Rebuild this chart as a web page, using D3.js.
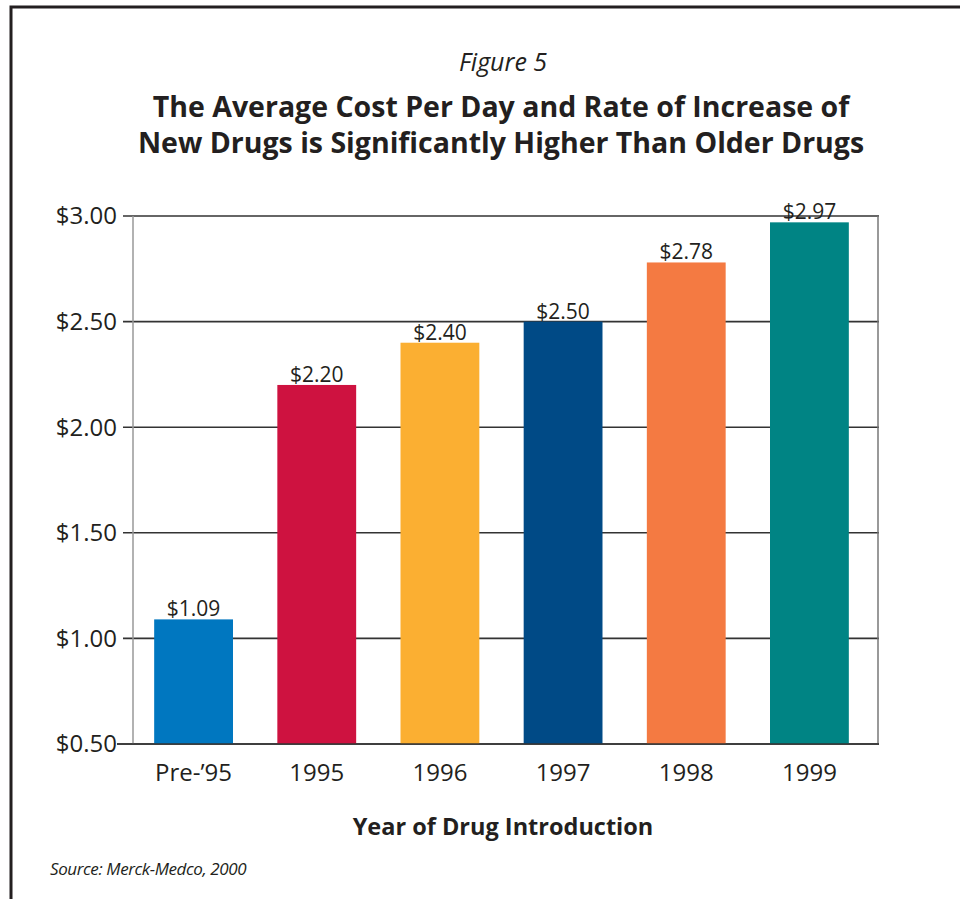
<!DOCTYPE html>
<html>
<head>
<meta charset="utf-8">
<script src="https://cdn.jsdelivr.net/npm/d3@7"></script>
<style>
  html, body { margin: 0; padding: 0; background: #fff; }
  svg { display: block; }
  text { fill: #231f20; }
</style>
</head>
<body>
<svg id="chart" width="960" height="899"></svg>
<script>
// Average cost per day by year of drug introduction
const categories = ["Pre-\u201995", "1995", "1996", "1997", "1998", "1999"];
const costs = [1.09, 2.20, 2.40, 2.50, 2.78, 2.97];
const barColors = ["#0077c0", "#ce1240", "#fbaf32", "#004a86", "#f47a42", "#008484"];
const yTicks = [0.5, 1.0, 1.5, 2.0, 2.5, 3.0];

const svg = d3.select("#chart");
const font = "'Open Sans', 'Noto Sans', sans-serif";
const money = d => "$" + d3.format(".2f")(d);

// outer frame (left and top rules)
svg.append("path")
  .attr("d", "M11,899 V7 H960")
  .attr("fill", "none")
  .attr("stroke", "#231f20")
  .attr("stroke-width", 3);

// titles
svg.append("text")
  .attr("x", 503).attr("y", 71)
  .attr("text-anchor", "middle")
  .style("font-family", font).style("font-style", "italic")
  .style("font-size", "25px")
  .text("Figure 5");

const titleLines = ["The Average Cost Per Day and Rate of Increase of",
                    "New Drugs is Significantly Higher Than Older Drugs"];
svg.selectAll("text.title").data(titleLines).enter().append("text")
  .attr("class", "title")
  .attr("x", 501).attr("y", (d, i) => 117 + i * 36)
  .attr("text-anchor", "middle")
  .style("font-family", font).style("font-weight", 700)
  .style("font-size", "28.5px")
  .text(d => d);

// scales
const plot = { left: 133, right: 878, top: 216, bottom: 744 };
const x = d3.scaleBand().domain(categories).range([132, 871])
  .paddingInner(0.36).paddingOuter(0.18);
const y = d3.scaleLinear().domain([0.5, 3.0]).range([plot.bottom, plot.top]);

// horizontal gridlines, each starting from a short tick stub
svg.append("g").selectAll("line").data(yTicks).enter().append("line")
  .attr("x1", d => d === 0.5 ? 117 : 123)
  .attr("x2", plot.right + 1)
  .attr("y1", d => y(d)).attr("y2", d => y(d))
  .attr("stroke", "#333")
  .attr("stroke-width", 1.6);

// side rules of plot area
svg.append("line")
  .attr("x1", plot.left).attr("x2", plot.left)
  .attr("y1", plot.top).attr("y2", plot.bottom)
  .attr("stroke", "#999").attr("stroke-width", 1.5);
svg.append("line")
  .attr("x1", plot.right).attr("x2", plot.right)
  .attr("y1", plot.top).attr("y2", plot.bottom)
  .attr("stroke", "#777").attr("stroke-width", 1.5);

// y tick labels
svg.append("g").selectAll("text").data(yTicks).enter().append("text")
  .attr("x", 117).attr("y", d => y(d))
  .attr("dy", "0.35em")
  .attr("text-anchor", "end")
  .style("font-family", font).style("font-size", "24px")
  .text(money);

// bars
const data = categories.map((c, i) => ({ cat: c, value: costs[i], color: barColors[i] }));
svg.append("g").selectAll("rect").data(data).enter().append("rect")
  .attr("x", d => x(d.cat))
  .attr("width", x.bandwidth())
  .attr("y", d => y(d.value))
  .attr("height", d => y(0.5) - y(d.value))
  .attr("fill", d => d.color);

// bottom axis line over bars
svg.append("line")
  .attr("x1", 117).attr("x2", plot.right + 1)
  .attr("y1", plot.bottom).attr("y2", plot.bottom)
  .attr("stroke", "#333").attr("stroke-width", 1.6);

// value labels
svg.append("g").selectAll("text").data(data).enter().append("text")
  .attr("x", d => x(d.cat) + x.bandwidth() / 2)
  .attr("y", d => y(d.value) - 3)
  .attr("text-anchor", "middle")
  .style("font-family", font).style("font-size", "21px")
  .text(d => money(d.value));

// category labels
svg.append("g").selectAll("text").data(categories).enter().append("text")
  .attr("x", d => x(d) + x.bandwidth() / 2)
  .attr("y", 781)
  .attr("text-anchor", "middle")
  .style("font-family", font).style("font-size", "24px")
  .text(d => d);

// axis title
svg.append("text")
  .attr("x", 503).attr("y", 835)
  .attr("text-anchor", "middle")
  .style("font-family", font).style("font-weight", 700)
  .style("font-size", "23.5px")
  .text("Year of Drug Introduction");

// source note
svg.append("text")
  .attr("x", 50).attr("y", 875)
  .style("font-family", font).style("font-style", "italic")
  .style("font-size", "17px")
  .style("letter-spacing", "-0.4px")
  .text("Source: Merck-Medco, 2000");
</script>
</body>
</html>
